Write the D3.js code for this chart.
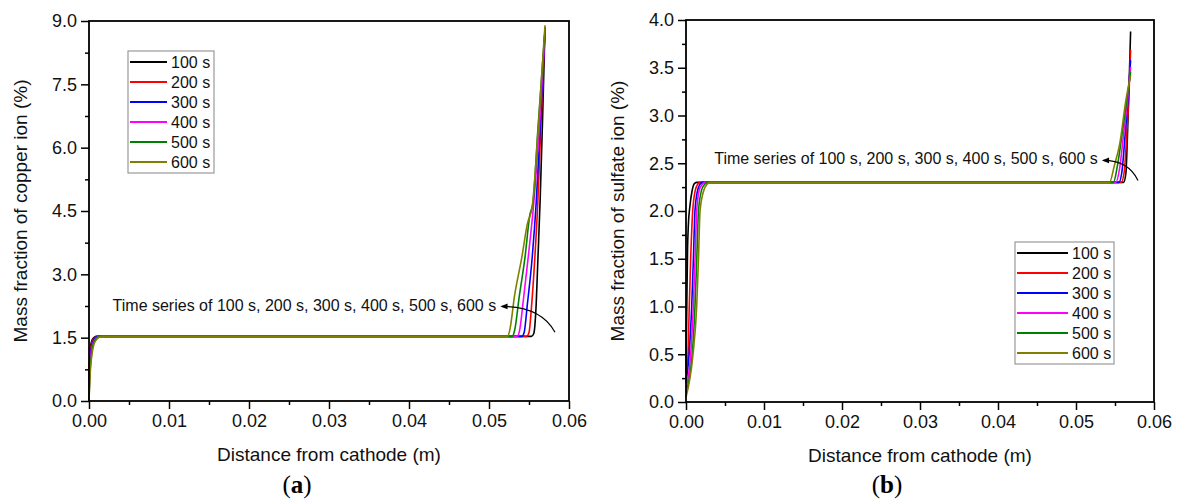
<!DOCTYPE html>
<html>
<head>
<meta charset="utf-8">
<script src="https://cdn.jsdelivr.net/npm/d3@7"></script>
<style>
  body { margin: 0; background: #fff; }
  svg { display: block; font-family: "Liberation Sans", Arial, sans-serif; }
</style>
</head>
<body>
<svg id="chart" width="1178" height="501"></svg>
<script>
// series labels and colours (same for both panels)
const times = ["100 s", "200 s", "300 s", "400 s", "500 s", "600 s"];
const colors = ["#000000", "#ff0000", "#0000ff", "#ff00ff", "#008000", "#808000"];

// tick values
const distanceTicks = [0, 0.01, 0.02, 0.03, 0.04, 0.05, 0.06];
const copperTicks = [0, 1.5, 3.0, 4.5, 6.0, 7.5, 9.0];
const sulfateTicks = [0, 0.5, 1.0, 1.5, 2.0, 2.5, 3.0, 3.5, 4.0];

// (a) copper ion mass fraction, [distance (m), %]
const copper100 = [[0, 0], [0.00003, 0.7], [0.0001, 1.1], [0.0003, 1.4], [0.0006, 1.5], [0.0010, 1.53],
  [0.0553, 1.53], [0.0556, 1.6], [0.0559, 2.3], [0.0561, 3.3], [0.0564, 4.8], [0.0567, 6.7], [0.0570, 8.85]];
const copper200 = [[0, 0], [0.00004, 0.65], [0.00013, 1.05], [0.00035, 1.38], [0.0007, 1.5], [0.0011, 1.53],
  [0.0547, 1.53], [0.0550, 1.62], [0.0553, 2.2], [0.0557, 3.3], [0.0561, 4.7], [0.0565, 6.6], [0.0570, 8.8]];
const copper300 = [[0, 0], [0.00005, 0.6], [0.00016, 1.0], [0.0004, 1.36], [0.0008, 1.5], [0.0012, 1.53],
  [0.0541, 1.53], [0.0544, 1.63], [0.0548, 2.3], [0.0554, 3.4], [0.0559, 4.7], [0.0564, 6.5], [0.0570, 8.75]];
const copper400 = [[0, 0], [0.00006, 0.57], [0.0002, 1.0], [0.00045, 1.34], [0.0009, 1.49], [0.0013, 1.53],
  [0.0535, 1.53], [0.0538, 1.65], [0.0543, 2.4], [0.0549, 3.4], [0.0556, 4.7], [0.0563, 6.5], [0.0570, 8.75]];
const copper500 = [[0, 0], [0.00008, 0.53], [0.00025, 0.98], [0.0005, 1.33], [0.0009, 1.47], [0.0014, 1.53],
  [0.0529, 1.53], [0.0532, 1.67], [0.0538, 2.5], [0.0545, 3.4], [0.0551, 4.4], [0.0555, 4.7], [0.0561, 6.4], [0.0570, 8.8]];
const copper600 = [[0, 0], [0.0001, 0.5], [0.0003, 1.0], [0.0006, 1.33], [0.0010, 1.47], [0.0016, 1.53],
  [0.0523, 1.53], [0.0526, 1.68], [0.0532, 2.5], [0.0541, 3.4], [0.0548, 4.2], [0.0554, 4.6], [0.0561, 6.3], [0.0570, 8.9]];

// (b) sulfate ion mass fraction, [distance (m), %]
const sulfate100 = [[0, 0.3], [0.0001, 1.0], [0.0002, 1.6], [0.0003, 1.85], [0.0005, 2.05], [0.0008, 2.22], [0.0011, 2.29], [0.0014, 2.3],
  [0.0561, 2.3], [0.0564, 2.4], [0.0566, 2.8], [0.0568, 3.3], [0.0570, 3.88]];
const sulfate200 = [[0, 0.25], [0.00026, 0.5], [0.00042, 1.0], [0.0006, 1.5], [0.00086, 2.0], [0.0012, 2.22], [0.0015, 2.28], [0.0018, 2.3],
  [0.0558, 2.3], [0.0562, 2.42], [0.0565, 2.8], [0.0568, 3.25], [0.0570, 3.69]];
const sulfate300 = [[0, 0.2], [0.0004, 0.5], [0.00073, 1.0], [0.00095, 1.5], [0.00115, 2.0], [0.0015, 2.22], [0.0018, 2.28], [0.0021, 2.3],
  [0.0555, 2.3], [0.0559, 2.42], [0.0563, 2.8], [0.0567, 3.2], [0.0570, 3.58]];
const sulfate400 = [[0, 0.15], [0.0006, 0.5], [0.00094, 1.0], [0.00116, 1.5], [0.00137, 2.0], [0.0017, 2.22], [0.0021, 2.28], [0.0024, 2.3],
  [0.0551, 2.3], [0.0556, 2.45], [0.0561, 2.8], [0.0566, 3.15], [0.0570, 3.51]];
const sulfate500 = [[0, 0.1], [0.0008, 0.5], [0.00115, 1.0], [0.00138, 1.5], [0.0016, 2.0], [0.0020, 2.22], [0.0024, 2.28], [0.0027, 2.3],
  [0.0548, 2.3], [0.0553, 2.47], [0.0559, 2.8], [0.0565, 3.15], [0.0570, 3.46]];
const sulfate600 = [[0, 0.05], [0.0009, 0.5], [0.00137, 1.0], [0.0016, 1.5], [0.0018, 2.0], [0.0023, 2.22], [0.0027, 2.28], [0.0031, 2.3],
  [0.0543, 2.3], [0.0549, 2.47], [0.0556, 2.7], [0.0564, 3.16], [0.0570, 3.42]];

const annotation = "Time series of 100 s, 200 s, 300 s, 400 s, 500 s, 600 s";

const svg = d3.select("#chart");

svg.append("defs").append("marker")
  .attr("id", "arrow")
  .attr("viewBox", "0 0 10 10")
  .attr("refX", 8).attr("refY", 5)
  .attr("markerWidth", 7).attr("markerHeight", 6)
  .attr("orient", "auto-start-reverse")
  .append("path")
  .attr("d", "M0,1 L10,5 L0,9 z")
  .attr("fill", "#000");

function drawPanel(p) {
  var x = d3.scaleLinear().domain([0, 0.06]).range([p.left, p.right]);
  var y = d3.scaleLinear().domain([0, p.ymax]).range([p.bottom, p.top]);
  var g = svg.append("g");

  // minor ticks
  var xMinor = d3.range(0.005, 0.06, 0.01);
  g.append("g")
    .attr("transform", "translate(0," + p.bottom + ")")
    .call(d3.axisBottom(x).tickValues(xMinor).tickSize(4).tickFormat(""))
    .call(a => a.select(".domain").remove());
  var yMinor = p.ticks.slice(1).map((d, i) => (d + p.ticks[i]) / 2);
  g.append("g")
    .attr("transform", "translate(" + p.left + ",0)")
    .call(d3.axisLeft(y).tickValues(yMinor).tickSize(4).tickFormat(""))
    .call(a => a.select(".domain").remove());

  // major ticks + labels
  var xa = g.append("g")
    .attr("transform", "translate(0," + p.bottom + ")")
    .call(d3.axisBottom(x).tickValues(distanceTicks).tickSize(8).tickPadding(5).tickFormat(d3.format(".2f")));
  xa.select(".domain").remove();
  xa.selectAll("text").attr("font-size", 18).attr("font-family", "Liberation Sans, Arial").attr("fill", "#111");
  var ya = g.append("g")
    .attr("transform", "translate(" + p.left + ",0)")
    .call(d3.axisLeft(y).tickValues(p.ticks).tickSize(8).tickPadding(4).tickFormat(d3.format(".1f")));
  ya.select(".domain").remove();
  ya.selectAll("text").attr("font-size", 18).attr("font-family", "Liberation Sans, Arial").attr("fill", "#111");
  g.selectAll(".tick line").attr("stroke", "#000").attr("stroke-width", 1.5);

  // curves
  var line = d3.line()
    .x(d => x(d[0]))
    .y(d => y(d[1]))
    .curve(d3.curveMonotoneX);
  g.selectAll(".curve")
    .data(p.series)
    .enter().append("path")
    .attr("class", "curve")
    .attr("fill", "none")
    .attr("stroke", (d, i) => colors[i])
    .attr("stroke-width", 1.6)
    .attr("stroke-linejoin", "round")
    .attr("d", line);

  // frame
  g.append("rect")
    .attr("x", p.left).attr("y", p.top)
    .attr("width", p.right - p.left).attr("height", p.bottom - p.top)
    .attr("fill", "none").attr("stroke", "#000").attr("stroke-width", 1.8);

  // axis titles
  g.append("text")
    .attr("x", (p.left + p.right) / 2).attr("y", p.bottom + 60)
    .attr("text-anchor", "middle").attr("font-size", 19).attr("fill", "#111")
    .text("Distance from cathode (m)");
  g.append("text")
    .attr("transform", "translate(" + p.ytitleX + "," + ((p.top + p.bottom) / 2) + ") rotate(-90)")
    .attr("text-anchor", "middle").attr("font-size", 19).attr("fill", "#111")
    .text(p.ytitle);

  // panel letter
  var lt = g.append("text")
    .attr("x", p.letterX).attr("y", 493)
    .attr("text-anchor", "middle").attr("font-size", 25)
    .attr("font-family", "Liberation Serif, Times New Roman, serif");
  lt.append("tspan").text("(");
  lt.append("tspan").attr("font-weight", "bold").text(p.letter);
  lt.append("tspan").text(")");

  // annotation with curved arrow
  g.append("text")
    .attr("x", x(p.note.tx)).attr("y", y(p.note.ty))
    .attr("text-anchor", "end").attr("font-size", 16).attr("fill", "#111")
    .text(annotation);
  var a = p.note.arrow.map(d => [x(d[0]), y(d[1])]);
  g.append("path")
    .attr("d", "M" + a[0] + " Q" + a[1] + " " + a[2])
    .attr("fill", "none").attr("stroke", "#000").attr("stroke-width", 1.2)
    .attr("marker-end", "url(#arrow)");

  // legend
  var lg = g.append("g").attr("transform", "translate(" + p.legend.x + "," + p.legend.y + ")");
  lg.append("rect")
    .attr("width", p.legend.w).attr("height", 122)
    .attr("fill", "#fff").attr("stroke", "#999").attr("stroke-width", 1.2);
  var rows = lg.selectAll(".row").data(times).enter().append("g")
    .attr("transform", (d, i) => "translate(0," + (11 + i * 20) + ")");
  rows.append("line")
    .attr("x1", 2).attr("x2", p.legend.line)
    .attr("stroke", (d, i) => colors[i]).attr("stroke-width", 2);
  rows.append("text")
    .attr("x", p.legend.line + 4).attr("y", 6)
    .attr("font-size", 16).attr("fill", "#111")
    .text(d => d);
}

drawPanel({
  left: 89, right: 569, top: 21, bottom: 401, ymax: 9,
  ticks: copperTicks,
  series: [copper100, copper200, copper300, copper400, copper500, copper600],
  ytitle: "Mass fraction of copper ion (%)", ytitleX: 27,
  letter: "a", letterX: 297,
  note: { tx: 0.0509, ty: 2.13, arrow: [[0.05825, 1.63], [0.0565, 2.24], [0.0516, 2.24]] },
  legend: { x: 128, y: 51, w: 86, line: 39 }
});

drawPanel({
  left: 686, right: 1154, top: 20, bottom: 402, ymax: 4,
  ticks: sulfateTicks,
  series: [sulfate100, sulfate200, sulfate300, sulfate400, sulfate500, sulfate600],
  ytitle: "Mass fraction of sulfate ion (%)", ytitleX: 624,
  letter: "b", letterX: 887,
  note: { tx: 0.0528, ty: 2.49, arrow: [[0.05795, 2.32], [0.0567, 2.53], [0.0535, 2.53]] },
  legend: { x: 1015, y: 242, w: 99, line: 53 }
});
</script>
</body>
</html>
